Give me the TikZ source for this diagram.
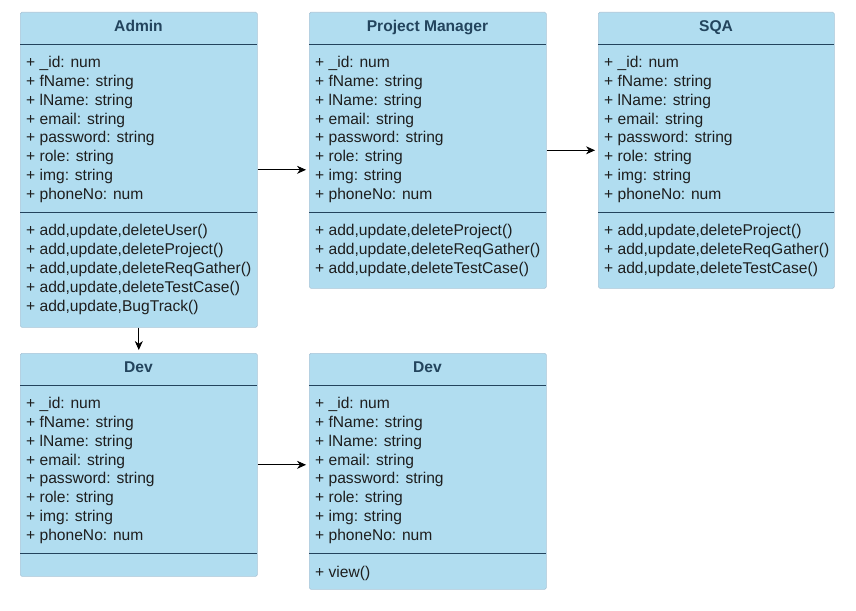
\documentclass[tikz,border=0pt]{standalone}
\usepackage{fontspec}
\setmainfont{Liberation Sans}
\usetikzlibrary{arrows.meta}
\definecolor{classfill}{HTML}{B1DDF0}
\definecolor{classedge}{HTML}{A9C6D8}
\definecolor{classline}{HTML}{23445D}
\definecolor{membertext}{HTML}{1E1E1E}

\tikzset{
  classbox/.style={draw=classedge, fill=classfill, rounded corners=1.5pt,
    anchor=north west, inner sep=0pt, line width=0.6pt},
  classname/.style={anchor=base, inner sep=0pt, text=classline,
    font=\bfseries\fontsize{15.6}{17}\selectfont},
  member/.style={anchor=base west, inner sep=0pt, text=membertext,
    font=\fontsize{15.6}{17}\selectfont},
  divider/.style={draw=classline, line width=0.8pt},
  assoc/.style={-{Stealth[length=9pt,width=8pt]}, line width=0.8pt, shorten >=3pt}
}

\begin{document}
\begin{tikzpicture}[x=1pt,y=-1pt]
\useasboundingbox (0,0) rectangle (856,610);
    \newcommand{\classattrs}[3]{
        \foreach \a [count=\i from 0] in {+ \_id: num, + fName: string,
            + lName: string, + email: string, + password: string,
            + role: string, + img: string, + phoneNo: num}
          \node[member] (#1-a\i) at (#2,{#3+18.9*\i}) {\a};
    }
    \newcommand{\crudops}[3]{
        \foreach \o [count=\i from 0] in {#3}
          \node[member] (#1-o\i) at (#2,{235.3+19*\i}) {\o};
    }

% class boxes
\node[classbox,minimum width=237pt,minimum height=315pt] (admin) at (20,12) {};
\node[classbox,minimum width=237pt,minimum height=276pt] (pm) at (309,12) {};
\node[classbox,minimum width=236pt,minimum height=276pt] (sqa) at (598,12) {};
\node[classbox,minimum width=237pt,minimum height=223pt] (dev) at (20,353) {};
\node[classbox,minimum width=237pt,minimum height=236pt] (devb) at (309,353) {};

% titles
\node[classname] (admin-t) at (138.5,31.7) {Admin};
\node[classname] (pm-t) at (427.5,31.7) {Project Manager};
\node[classname] (sqa-t) at (716,31.7) {SQA};
\node[classname] (dev-t) at (138.5,372.7) {Dev};
\node[classname] (devb-t) at (427.5,372.7) {Dev};

% compartments
\draw[divider] (20,44) -- (257,44);
\draw[divider] (20,212) -- (257,212);
\draw[divider] (309,44) -- (546,44);
\draw[divider] (309,212) -- (546,212);
\draw[divider] (598,44) -- (834,44);
\draw[divider] (598,212) -- (834,212);
\draw[divider] (20,385) -- (257,385);
\draw[divider] (20,553) -- (257,553);
\draw[divider] (309,385) -- (546,385);
\draw[divider] (309,553) -- (546,553);

% attributes
\classattrs{admin}{26}{67.3}
\classattrs{pm}{315}{67.3}
\classattrs{sqa}{604}{67.3}
\classattrs{dev}{26}{408.3}
\classattrs{devb}{315}{408.3}

% operations
\crudops{admin}{26}{{+ add,update,deleteUser()},{+ add,update,deleteProject()},
  {+ add,update,deleteReqGather()},{+ add,update,deleteTestCase()},
  {+ add,update,BugTrack()}}
\crudops{pm}{315}{{+ add,update,deleteProject()},{+ add,update,deleteReqGather()},
  {+ add,update,deleteTestCase()}}
\crudops{sqa}{604}{{+ add,update,deleteProject()},{+ add,update,deleteReqGather()},
  {+ add,update,deleteTestCase()}}
\node[member] (devb-o0) at (315,577.3) {+ view()};

% associations
\draw[assoc] (admin.east) -- (admin.east -| pm.west);
\draw[assoc] (pm.east) -- (sqa.west);
\draw[assoc] (admin.south) -- (dev.north);
\draw[assoc] (dev.east) -- (dev.east -| devb.west);

\end{tikzpicture}
\end{document}
